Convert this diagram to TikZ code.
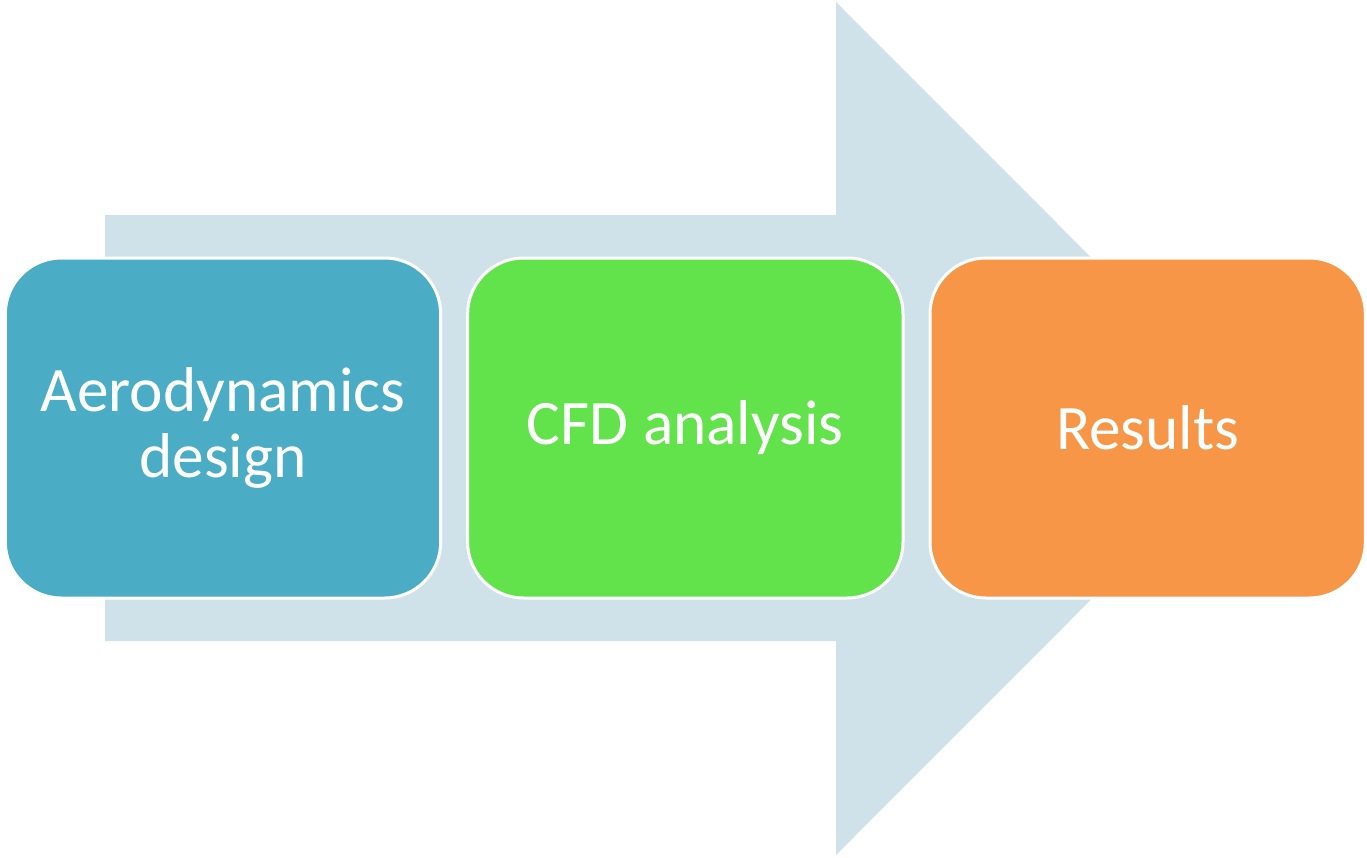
\documentclass[tikz,border=0pt]{standalone}
\usepackage{fontspec}
\setmainfont{Carlito}
\usepackage{xcolor}
\usepackage{tikz}
\usetikzlibrary{positioning}
\definecolor{ArrowMist}{HTML}{CFE2EA}
\definecolor{SeaBlue}{HTML}{4BACC6}
\definecolor{LeafGreen}{HTML}{62E34B}
\definecolor{Tangerine}{HTML}{F79646}

\begin{document}
\begin{tikzpicture}[
  x=0.75pt,y=-0.75pt,
  node distance=18pt,
  stage/.style={rounded corners=42pt,draw=white,line width=2.25pt,minimum width=326.5pt,minimum height=255pt,
    text=white,align=center,font=\fontsize{47.5}{50}\selectfont}
]
\useasboundingbox (0,0) rectangle (1367,857);
% big process arrow in the back
\fill[ArrowMist] (105,215) -- (836,215) -- (836,2) -- (1262,428.5) -- (836,855) -- (836,641) -- (105,641) -- cycle;
\node[stage,fill=SeaBlue] (aero) at (223,428) {Aerodynamics\\design};
\node[stage,fill=LeafGreen,right=of aero] (cfd) {CFD analysis};
\node[stage,fill=Tangerine,right=of cfd] (res) {Results};
\end{tikzpicture}
\end{document}
